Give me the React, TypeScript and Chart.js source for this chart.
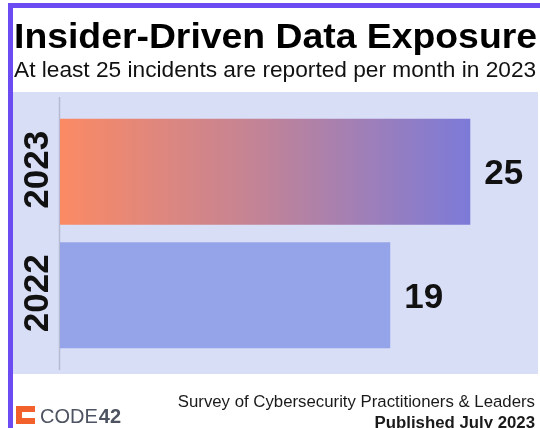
import React, { useEffect, useRef } from "react";
import { Chart, registerables } from "chart.js";

Chart.register(...registerables);

const categories = ["2023", "2022"];
const incidents = [25, 19];
const axisMin = -5.75;
const axisMax = 30;

const titleText = "Insider-Driven Data Exposure";
const subtitleText = "At least 25 incidents are reported per month in 2023";
const sourceText = "Survey of Cybersecurity Practitioners & Leaders";
const publishedText = "Published July 2023";

const FONT = '"Liberation Sans", Arial, Helvetica, sans-serif';

function fillStretched(ctx: any, text: string, x: number, y: number, targetWidth: number) {
  const w = ctx.measureText(text).width;
  const sx = targetWidth / w;
  ctx.save();
  ctx.translate(x, y);
  ctx.scale(sx, 1);
  ctx.fillText(text, 0, 0);
  ctx.restore();
}

const decorPlugin = {
  id: "decor",
  beforeDraw(chart: any) {
    const { ctx, chartArea } = chart;
    ctx.save();
    ctx.fillStyle = "#ffffff";
    ctx.fillRect(0, 0, chart.width, chart.height);
    // plot background
    ctx.fillStyle = "#d9def7";
    ctx.fillRect(13, 92, 525, 282);
    // axis line
    ctx.strokeStyle = "#b7bcd4";
    ctx.lineWidth = 1.5;
    ctx.beginPath();
    ctx.moveTo(chartArea.left - 0.5, 97);
    ctx.lineTo(chartArea.left - 0.5, 370);
    ctx.stroke();
    // purple frame
    ctx.fillStyle = "#6b4cf2";
    ctx.fillRect(8, 3, 532, 5);
    ctx.fillRect(8, 3, 5, 425);
    // titles
    ctx.fillStyle = "#000000";
    ctx.textBaseline = "alphabetic";
    ctx.textAlign = "left";
    ctx.font = `bold 35px ${FONT}`;
    fillStretched(ctx, titleText, 14, 48, 523);
    ctx.fillStyle = "#111111";
    ctx.font = `22.7px ${FONT}`;
    ctx.fillText(subtitleText, 14, 77);
    ctx.restore();
  },
  afterDraw(chart: any) {
    const { ctx } = chart;
    ctx.save();
    // category labels (rotated)
    const ys = chart.scales.y;
    ctx.fillStyle = "#111111";
    ctx.font = `bold 35px ${FONT}`;
    ctx.textAlign = "center";
    ctx.textBaseline = "middle";
    categories.forEach((label, i) => {
      const y = ys.getPixelForTick(i);
      ctx.save();
      ctx.translate(38, y - 2);
      ctx.rotate(-Math.PI / 2);
      ctx.fillText(label, 0, 0);
      ctx.restore();
    });
    // value labels
    const meta = chart.getDatasetMeta(0);
    ctx.textAlign = "left";
    meta.data.forEach((bar: any, i: number) => {
      ctx.fillText(String(incidents[i]), bar.x + 14, bar.y + 3);
    });
    // footer
    ctx.fillStyle = "#1a1a1a";
    ctx.textAlign = "right";
    ctx.textBaseline = "alphabetic";
    ctx.font = `16.8px ${FONT}`;
    ctx.fillText(sourceText, 535, 407);
    ctx.font = `bold 16.8px ${FONT}`;
    ctx.fillText(publishedText, 535, 427.5);
    // logo
    ctx.fillStyle = "#f2602b";
    ctx.fillRect(16, 406, 19, 18);
    ctx.fillStyle = "#ffffff";
    ctx.fillRect(22, 412, 13, 6);
    ctx.textAlign = "left";
    ctx.font = `20px ${FONT}`;
    ctx.fillStyle = "#4d5361";
    ctx.fillText("CODE", 40, 423);
    const w = ctx.measureText("CODE").width;
    ctx.font = `bold 20px ${FONT}`;
    ctx.fillText("42", 40 + w + 1, 423);
    ctx.restore();
  },
};

export default function App() {
  const ref = useRef<HTMLCanvasElement | null>(null);
  useEffect(() => {
    if (!ref.current) return;
    const chart = new Chart(ref.current, {
      type: "bar",
      data: {
        labels: categories,
        datasets: [
          {
            data: incidents,
            base: axisMin,
            barPercentage: 0.86,
            categoryPercentage: 1,
            borderWidth: 0,
            backgroundColor: (c: any) => {
              const chart = c.chart;
              const area = chart.chartArea;
              if (c.dataIndex === 1) return "#95a3e9";
              if (!area) return "#f98a66";
              const xs = chart.scales.x;
              const x0 = xs.getPixelForValue(axisMin);
              const x1 = xs.getPixelForValue(incidents[c.dataIndex]);
              const g = chart.ctx.createLinearGradient(x0, 0, x1, 0);
              g.addColorStop(0, "#fb8a64");
              g.addColorStop(0.5, "#c08398");
              g.addColorStop(1, "#7c7ad8");
              return g;
            },
          },
        ],
      },
      options: {
        indexAxis: "y",
        responsive: false,
        animation: false,
        layout: { padding: { top: 110, bottom: 71, left: 0, right: 3 } },
        plugins: {
          legend: { display: false },
          title: { display: false },
          tooltip: { enabled: false },
        },
        scales: {
          x: {
            min: axisMin,
            max: axisMax,
            display: false,
          },
          y: {
            type: "category",
            grid: { display: false },
            border: { display: false },
            afterFit: (s: any) => {
              s.width = 60;
            },
            ticks: { display: false },
          },
        },
      },
      plugins: [decorPlugin],
    });
    return () => chart.destroy();
  }, []);
  return (
    <canvas
      ref={ref}
      width={540}
      height={428}
      style={{ position: "absolute", left: 0, top: 0, width: 540, height: 428, display: "block" }}
    />
  );
}
